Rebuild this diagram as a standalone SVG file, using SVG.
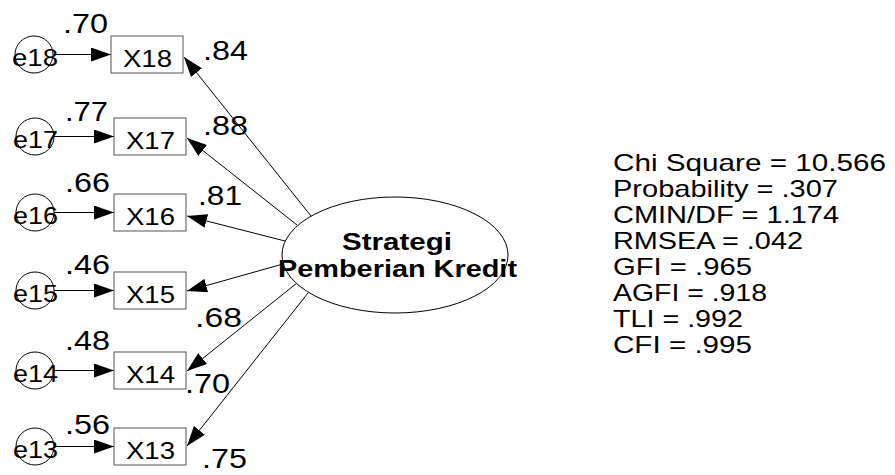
<svg xmlns="http://www.w3.org/2000/svg" width="895" height="475" viewBox="0 0 895 475">
<style>
text{font-family:"Liberation Sans",Arial,sans-serif;fill:#000}
.lbl{font-size:24px}
.coef{font-size:27px}
.err{font-size:23px}
.lat{font-size:23px;font-weight:bold}
.fit{font-size:24px}
.box{fill:#fff;stroke:#555;stroke-width:1}
.circ{fill:none;stroke:#000;stroke-width:1}
.ell{fill:#fff;stroke:#000;stroke-width:1}
.path{stroke:#000;stroke-width:1;fill:none;marker-end:url(#ah)}
</style>
<defs>
<marker id="ah" markerUnits="userSpaceOnUse" markerWidth="20" markerHeight="14" refX="20" refY="7" orient="auto">
<path d="M0,0 L20,7 L0,14 z" fill="#000"/>
</marker>
</defs>
<rect width="895" height="475" fill="#fff"/>
<g id="connectors">
<line class="path" x1="53" y1="54.5" x2="111" y2="54.5"/>
<line class="path" x1="54" y1="136.5" x2="114" y2="136.5"/>
<line class="path" x1="54" y1="212.5" x2="114" y2="212.5"/>
<line class="path" x1="54" y1="290.5" x2="114" y2="290.5"/>
<line class="path" x1="54" y1="370.5" x2="114" y2="370.5"/>
<line class="path" x1="54" y1="446.5" x2="114" y2="446.5"/>
<line class="path" x1="311" y1="216" x2="184" y2="57"/>
<line class="path" x1="297" y1="225" x2="187" y2="138"/>
<line class="path" x1="285" y1="241" x2="187" y2="216"/>
<line class="path" x1="283" y1="264" x2="187" y2="291"/>
<line class="path" x1="297" y1="283" x2="187" y2="371"/>
<line class="path" x1="308" y1="293" x2="187" y2="446"/>
</g>
<g id="e18"><ellipse class="circ" cx="34" cy="54.5" rx="19" ry="18.5"/><text class="err" x="12" y="66" textLength="46" lengthAdjust="spacingAndGlyphs">e18</text></g>
<g id="e17"><ellipse class="circ" cx="35" cy="136.5" rx="19" ry="18.5"/><text class="err" x="13" y="148" textLength="45" lengthAdjust="spacingAndGlyphs">e17</text></g>
<g id="e16"><ellipse class="circ" cx="35" cy="212.5" rx="19" ry="18.5"/><text class="err" x="13" y="224" textLength="45" lengthAdjust="spacingAndGlyphs">e16</text></g>
<g id="e15"><ellipse class="circ" cx="35" cy="290.5" rx="19" ry="18.5"/><text class="err" x="13" y="302" textLength="45" lengthAdjust="spacingAndGlyphs">e15</text></g>
<g id="e14"><ellipse class="circ" cx="35" cy="370.5" rx="19" ry="18.5"/><text class="err" x="13" y="382" textLength="45" lengthAdjust="spacingAndGlyphs">e14</text></g>
<g id="e13"><ellipse class="circ" cx="35" cy="446.5" rx="19" ry="18.5"/><text class="err" x="13" y="458" textLength="45" lengthAdjust="spacingAndGlyphs">e13</text></g>
<g id="X18"><rect class="box" x="111" y="36" width="72" height="37"/><text class="lbl" x="123" y="67" textLength="49" lengthAdjust="spacingAndGlyphs">X18</text></g>
<g id="X17"><rect class="box" x="114" y="118" width="72" height="37"/><text class="lbl" x="126" y="149" textLength="49" lengthAdjust="spacingAndGlyphs">X17</text></g>
<g id="X16"><rect class="box" x="114" y="194" width="72" height="37"/><text class="lbl" x="126" y="225" textLength="49" lengthAdjust="spacingAndGlyphs">X16</text></g>
<g id="X15"><rect class="box" x="114" y="272" width="72" height="37"/><text class="lbl" x="126" y="303" textLength="49" lengthAdjust="spacingAndGlyphs">X15</text></g>
<g id="X14"><rect class="box" x="114" y="352" width="72" height="37"/><text class="lbl" x="126" y="383" textLength="49" lengthAdjust="spacingAndGlyphs">X14</text></g>
<g id="X13"><rect class="box" x="114" y="428" width="72" height="37"/><text class="lbl" x="126" y="459" textLength="49" lengthAdjust="spacingAndGlyphs">X13</text></g>
<g id="latent"><ellipse class="ell" cx="395" cy="255" rx="113" ry="58"/>
<text class="lat" x="342" y="250" textLength="110" lengthAdjust="spacingAndGlyphs">Strategi</text>
<text class="lat" x="278" y="277" textLength="239" lengthAdjust="spacingAndGlyphs">Pemberian Kredit</text></g>
<g id="coefficients">
<text class="coef" x="63" y="33" textLength="45" lengthAdjust="spacingAndGlyphs">.70</text>
<text class="coef" x="65" y="121" textLength="43" lengthAdjust="spacingAndGlyphs">.77</text>
<text class="coef" x="65" y="192" textLength="45" lengthAdjust="spacingAndGlyphs">.66</text>
<text class="coef" x="65" y="274" textLength="45" lengthAdjust="spacingAndGlyphs">.46</text>
<text class="coef" x="65" y="350" textLength="45" lengthAdjust="spacingAndGlyphs">.48</text>
<text class="coef" x="65" y="434" textLength="45" lengthAdjust="spacingAndGlyphs">.56</text>
<text class="coef" x="203" y="60" textLength="45" lengthAdjust="spacingAndGlyphs">.84</text>
<text class="coef" x="203" y="135" textLength="45" lengthAdjust="spacingAndGlyphs">.88</text>
<text class="coef" x="198" y="205" textLength="44" lengthAdjust="spacingAndGlyphs">.81</text>
<text class="coef" x="195" y="327" textLength="47" lengthAdjust="spacingAndGlyphs">.68</text>
<text class="coef" x="185" y="393" textLength="45" lengthAdjust="spacingAndGlyphs">.70</text>
<text class="coef" x="202" y="468" textLength="45" lengthAdjust="spacingAndGlyphs">.75</text>
</g>
<g id="fit">
<text class="fit" x="613" y="171" textLength="273" lengthAdjust="spacingAndGlyphs">Chi Square = 10.566</text>
<text class="fit" x="613" y="197" textLength="225" lengthAdjust="spacingAndGlyphs">Probability = .307</text>
<text class="fit" x="613" y="223" textLength="226" lengthAdjust="spacingAndGlyphs">CMIN/DF = 1.174</text>
<text class="fit" x="613" y="249" textLength="190" lengthAdjust="spacingAndGlyphs">RMSEA = .042</text>
<text class="fit" x="613" y="275" textLength="139" lengthAdjust="spacingAndGlyphs">GFI = .965</text>
<text class="fit" x="613" y="301" textLength="154" lengthAdjust="spacingAndGlyphs">AGFI = .918</text>
<text class="fit" x="613" y="327" textLength="130" lengthAdjust="spacingAndGlyphs">TLI = .992</text>
<text class="fit" x="613" y="353" textLength="139" lengthAdjust="spacingAndGlyphs">CFI = .995</text>
</g>
</svg>
